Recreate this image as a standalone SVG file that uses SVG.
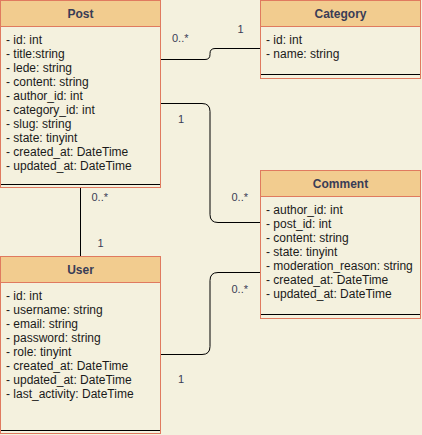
<svg xmlns="http://www.w3.org/2000/svg" width="422" height="435" viewBox="0 0 422 435">
<style>
.box{fill:#F4F1DE;stroke:#E07A5F;stroke-width:1}
.hdr{fill:#F2CC8F;stroke:#E07A5F;stroke-width:1}
.sep{stroke:#000;stroke-width:1}
.title{font-family:"Liberation Sans",Arial,sans-serif;font-size:12px;font-weight:bold;fill:#393C56;text-anchor:middle}
.row{font-family:"Liberation Sans",Arial,sans-serif;font-size:12px;fill:#1A1A1A}
.lbl{font-family:"Liberation Sans",Arial,sans-serif;font-size:11px;fill:#393C56}
.edge{fill:none;stroke:#000;stroke-width:1}
</style>
<rect x="0" y="0" width="422" height="435" fill="#F4F1DE"/>
<g id="connectors">
<path class="edge" d="M161,59.5 H205 Q210,59.5 210,54.5 V53.5 Q210,48.5 215,48.5 H260"/>
<path class="edge" d="M161,103.5 H202 Q210,103.5 210,111.5 V214.5 Q210,222.5 218,222.5 H260"/>
<path class="edge" d="M80.5,188 V256"/>
<path class="edge" d="M161,354.5 H202 Q210,354.5 210,346.5 V280.5 Q210,272.5 218,272.5 H260"/>
<text class="lbl" x="172" y="41.5">0..*</text>
<text class="lbl" x="237.5" y="33">1</text>
<text class="lbl" x="178" y="122.5">1</text>
<text class="lbl" x="231.5" y="201">0..*</text>
<text class="lbl" x="91.5" y="200.5">0..*</text>
<text class="lbl" x="97.5" y="246.5">1</text>
<text class="lbl" x="231.5" y="292.5">0..*</text>
<text class="lbl" x="178" y="383">1</text>
</g>
<g id="post">
<rect class="box" x="0.5" y="0.5" width="160" height="187"/>
<rect class="hdr" x="0.5" y="0.5" width="160" height="26"/>
<text class="title" x="80.5" y="18">Post</text>
<text class="row" x="6" y="44">- id: int</text>
<text class="row" x="6" y="58">- title:string</text>
<text class="row" x="6" y="72">- lede: string</text>
<text class="row" x="6" y="86">- content: string</text>
<text class="row" x="6" y="100">- author_id: int</text>
<text class="row" x="6" y="114">- category_id: int</text>
<text class="row" x="6" y="128">- slug: string</text>
<text class="row" x="6" y="142">- state: tinyint</text>
<text class="row" x="6" y="156">- created_at: DateTime</text>
<text class="row" x="6" y="170">- updated_at: DateTime</text>
<line class="sep" x1="1" y1="184.5" x2="160" y2="184.5"/>
</g>
<g id="category">
<rect class="box" x="260.5" y="0.5" width="160" height="78"/>
<rect class="hdr" x="260.5" y="0.5" width="160" height="26"/>
<text class="title" x="340.5" y="18">Category</text>
<text class="row" x="266" y="44">- id: int</text>
<text class="row" x="266" y="58">- name: string</text>
<line class="sep" x1="261" y1="74.5" x2="420" y2="74.5"/>
</g>
<g id="comment">
<rect class="box" x="260.5" y="170.5" width="160" height="148"/>
<rect class="hdr" x="260.5" y="170.5" width="160" height="26"/>
<text class="title" x="340.5" y="188">Comment</text>
<text class="row" x="266" y="214">- author_id: int</text>
<text class="row" x="266" y="228">- post_id: int</text>
<text class="row" x="266" y="242">- content: string</text>
<text class="row" x="266" y="256">- state: tinyint</text>
<text class="row" x="266" y="270">- moderation_reason: string</text>
<text class="row" x="266" y="284">- created_at: DateTime</text>
<text class="row" x="266" y="298">- updated_at: DateTime</text>
<line class="sep" x1="261" y1="314.5" x2="420" y2="314.5"/>
</g>
<g id="user">
<rect class="box" x="0.5" y="256.5" width="160" height="177"/>
<rect class="hdr" x="0.5" y="256.5" width="160" height="26"/>
<text class="title" x="80.5" y="274">User</text>
<text class="row" x="6" y="300">- id: int</text>
<text class="row" x="6" y="314">- username: string</text>
<text class="row" x="6" y="328">- email: string</text>
<text class="row" x="6" y="342">- password: string</text>
<text class="row" x="6" y="356">- role: tinyint</text>
<text class="row" x="6" y="370">- created_at: DateTime</text>
<text class="row" x="6" y="384">- updated_at: DateTime</text>
<text class="row" x="6" y="398">- last_activity: DateTime</text>
<line class="sep" x1="1" y1="430.5" x2="160" y2="430.5"/>
</g>
</svg>
